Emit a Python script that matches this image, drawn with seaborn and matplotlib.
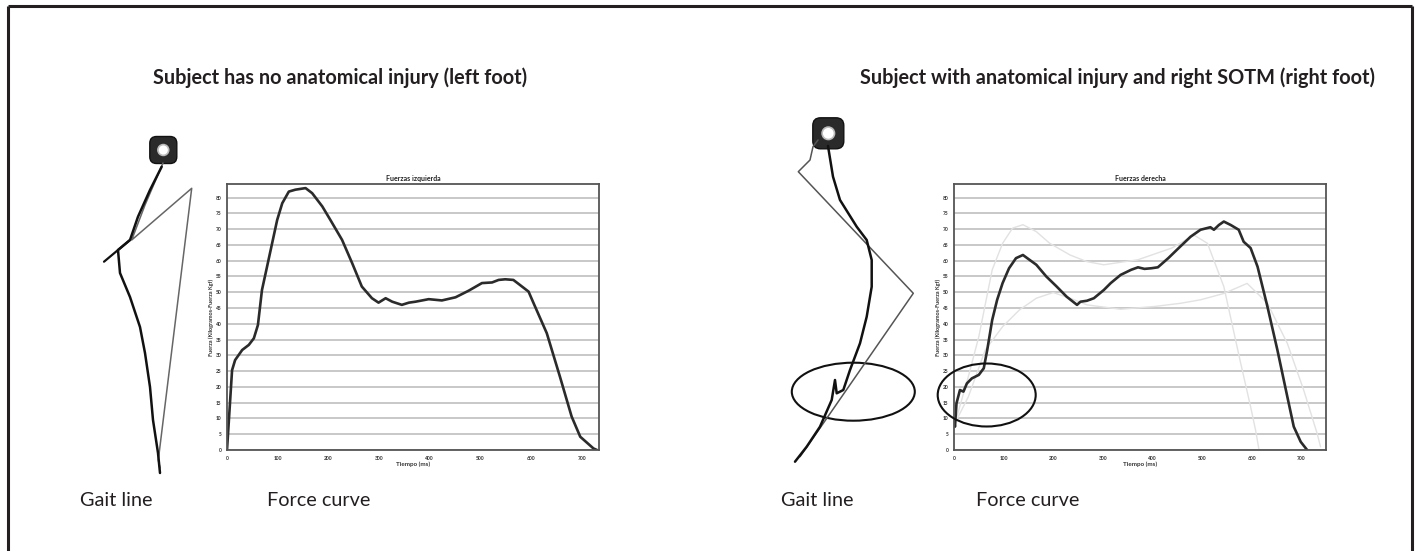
import numpy as np
import pandas as pd
import seaborn as sns
import matplotlib.pyplot as plt
from matplotlib.patches import Ellipse, FancyBboxPatch, Circle
from matplotlib import font_manager

sns.set_style("white")
plt.rcParams["font.family"] = ["Lato", "DejaVu Sans"]

installed = {f.name for f in font_manager.fontManager.ttflist}
title_family = ["Liberation Sans Narrow", "Lato"] if "Liberation Sans Narrow" in installed else ["Lato"]

# ---- force curves (time in ms, force in kgf) ----
left_t = [0, 10, 16, 30, 43, 53, 61, 69, 82, 99, 109, 122, 135, 155, 168, 188, 204,
          227, 247, 266, 286, 299, 313, 326, 345, 359, 372, 398, 424, 451, 477, 503,
          523, 536, 549, 565, 574, 595, 605, 631, 657, 680, 697, 723, 730]
left_f = [0, 25.3, 28.5, 31.7, 33.3, 35.4, 39.6, 50.7, 60.3, 72.9, 78.2, 81.9, 82.5,
          83.0, 81.4, 77.2, 72.9, 66.6, 59.2, 51.8, 48.1, 46.7, 48.1, 47.0, 46.0, 46.7,
          47.0, 47.8, 47.4, 48.4, 50.5, 52.9, 53.1, 53.9, 54.1, 53.9, 52.8, 50.2, 46.5,
          37.0, 23.2, 10.6, 4.2, 0.5, 0.0]

right_t = [0, 2, 5, 12, 19, 26, 36, 50, 60, 67, 77, 87, 98, 111, 125, 139, 152, 166,
           186, 207, 227, 248, 255, 268, 282, 302, 316, 336, 357, 371, 384, 398, 411,
           432, 453, 477, 497, 517, 524, 534, 544, 558, 574, 584, 598, 612, 632, 652,
           672, 685, 699, 712]
right_f = [9.0, 7.4, 14.8, 19.0, 18.5, 21.1, 22.7, 23.8, 25.9, 31.7, 41.2, 47.6, 52.9,
           57.6, 60.8, 61.8, 60.3, 58.7, 55.0, 51.8, 48.6, 46.0, 47.0, 47.3, 48.1, 50.7,
           52.9, 55.5, 57.1, 57.9, 57.4, 57.6, 57.9, 60.8, 64.0, 67.6, 69.8, 70.6, 69.8,
           71.3, 72.4, 71.3, 69.8, 66.0, 64.0, 58.1, 45.4, 31.7, 16.9, 7.4, 2.6, 0.0]

# reference curves shown faintly behind the right-foot trace
ref_a_t = [2, 29, 50, 77, 98, 118, 139, 166, 193, 234, 268, 302, 371, 439, 484, 511,
           544, 578, 598, 608, 615]
ref_a_f = [8.5, 23.3, 35.9, 57.1, 65.5, 70.3, 71.4, 69.2, 65.5, 61.8, 59.7, 58.7, 60.3,
           64.0, 68.1, 65.5, 51.8, 27.5, 13.7, 6.3, 0.0]
ref_b_t = [2, 29, 63, 98, 132, 166, 200, 234, 268, 336, 405, 457, 497, 544, 591, 632,
           672, 705, 732, 739]
ref_b_f = [8.5, 16.9, 31.7, 39.1, 44.4, 48.1, 49.9, 48.1, 46.0, 44.6, 45.5, 46.5, 47.6,
           49.6, 52.8, 46.5, 33.8, 19.0, 5.3, 1.0]

y_ticks = list(range(0, 85, 5))
x_ticks = list(range(0, 800, 100))

# ---- gait line sketches (pixel-like units, y downward) ----
left_gait_x = [161.7, 150, 138, 130, 118, 120, 130, 140, 145, 150, 153, 158, 160]
left_gait_y = [166.7, 190, 216.7, 240, 250, 273, 297, 327, 353, 387, 420, 453, 473]
left_spur_x = [130, 104]
left_spur_y = [240, 261.7]
left_tri_x = [163, 145, 131.7, 191.7, 158.3, 160]
left_tri_y = [163, 205, 240, 188.3, 460, 468]

right_gait_x = [828, 833, 840, 856.7, 866.7, 871.7, 871.7, 866.7, 860, 850, 843.3,
                836.7, 835, 831.7, 820, 806.7, 795]
right_gait_y = [146, 176.7, 200, 226.7, 240, 260, 286.7, 316.7, 343.3, 370, 390,
                393.3, 380, 400, 426.7, 446.7, 461.7]
right_tri_x = [818, 813, 810, 798.3, 913.3, 823.3, 800]
right_tri_y = [140, 146.7, 160, 171.7, 293.3, 423.3, 456.7]

W, H = 1417, 551
fig = plt.figure(figsize=(W / 100, H / 100), dpi=100)

# full-figure canvas in pixel units for sketches, labels and frame
canvas = fig.add_axes([0, 0, 1, 1])
canvas.set_xlim(0, W)
canvas.set_ylim(H, 0)
canvas.axis("off")

frame_kw = dict(color="#231f20", lw=2.2, solid_capstyle="butt")
canvas.plot([8, 1411.5], [6, 6], **frame_kw)
canvas.plot([8, 8], [6, H], **frame_kw)
canvas.plot([1411.5, 1411.5], [6, H], **frame_kw)

title_size = 14.5 if title_family[0] == "Liberation Sans Narrow" else 14.3
canvas.text(340, 78, "Subject has no anatomical injury (left foot)", ha="center",
            va="center", fontsize=title_size, fontweight="bold", color="#231f20",
            family=title_family)
canvas.text(1118, 78, "Subject with anatomical injury and right SOTM (right foot)",
            ha="center", va="center", fontsize=title_size, fontweight="bold",
            color="#231f20", family=title_family)

for x0, s in [(80, "Gait line"), (267, "Force curve"), (781, "Gait line"), (976, "Force curve")]:
    canvas.text(x0, 501, s, ha="left", va="center", fontsize=14.3, color="#231f20")


def sensor(cx, cy, size):
    box = FancyBboxPatch((cx - size / 2, cy - size / 2), size, size,
                         boxstyle=f"round,pad=0,rounding_size={size * 0.25}",
                         fc="#2a2a2a", ec="#111111", lw=1)
    canvas.add_patch(box)
    canvas.add_patch(Circle((cx, cy), size * 0.2, fc="white", ec="#bbbbbb", lw=1.2))


sensor(163.3, 150, 27)
canvas.plot(left_tri_x, left_tri_y, color="#666666", lw=1.1)
canvas.plot(left_gait_x, left_gait_y, color="#111111", lw=1.8)
canvas.plot(left_spur_x, left_spur_y, color="#111111", lw=1.6)

sensor(828.3, 133.3, 31)
canvas.plot(right_tri_x, right_tri_y, color="#555555", lw=1.1)
canvas.plot(right_gait_x, right_gait_y, color="#111111", lw=1.8)
canvas.add_patch(Ellipse((853.3, 391.7), 123, 58, fill=False, ec="#111111", lw=1.5))


def force_panel(rect, title, xmax):
    ax = fig.add_axes(rect)
    ax.set_xlim(0, xmax)
    ax.set_ylim(0, 84.3)
    ax.set_yticks(y_ticks)
    ax.set_xticks(x_ticks)
    ax.yaxis.grid(True, color="#c8c8c8", lw=1.4)
    ax.xaxis.grid(False)
    ax.set_axisbelow(True)
    ax.tick_params(labelsize=3.5, length=0, pad=4, labelcolor="#333333")
    for lab in ax.get_xticklabels() + ax.get_yticklabels():
        lab.set_fontweight("bold")
    for sp in ax.spines.values():
        sp.set_visible(True)
        sp.set_color("#555555")
        sp.set_linewidth(1.3)
    ax.set_title(title, fontsize=5, fontweight="bold", pad=2, color="#222222")
    return ax


ax_l = force_panel([227 / W, 1 - 450 / H, 372 / W, 266 / H], "Fuerzas izquierda", 734)
sns.lineplot(data=pd.DataFrame({"t": left_t, "f": left_f}), x="t", y="f", ax=ax_l,
             color="#2b2b2b", lw=1.9, sort=False)

ax_r = force_panel([954 / W, 1 - 450 / H, 372 / W, 266 / H], "Fuerzas derecha", 750)
sns.lineplot(data=pd.DataFrame({"t": ref_a_t, "f": ref_a_f}), x="t", y="f", ax=ax_r,
             color="#e2e2e2", lw=1.0, sort=False)
sns.lineplot(data=pd.DataFrame({"t": ref_b_t, "f": ref_b_f}), x="t", y="f", ax=ax_r,
             color="#e2e2e2", lw=1.0, sort=False)
sns.lineplot(data=pd.DataFrame({"t": right_t, "f": right_f}), x="t", y="f", ax=ax_r,
             color="#2b2b2b", lw=1.9, sort=False)

for ax in (ax_l, ax_r):
    ax.set_xlabel("Tiempo (ms)", fontsize=4.5, fontweight="bold", labelpad=1, color="#333333")
    ax.set_ylabel("Fuerza (Kilogramos-Fuerza Kgf)", fontsize=4, fontweight="bold",
                  labelpad=1, color="#333333")

# circle highlighting the early loading phase of the right foot
canvas.add_patch(Ellipse((986.7, 395), 98, 63, fill=False, ec="#111111", lw=1.5, zorder=10))
canvas.set_zorder(5)
canvas.patch.set_alpha(0)

fig.savefig("out.png", dpi=100, facecolor="white")
